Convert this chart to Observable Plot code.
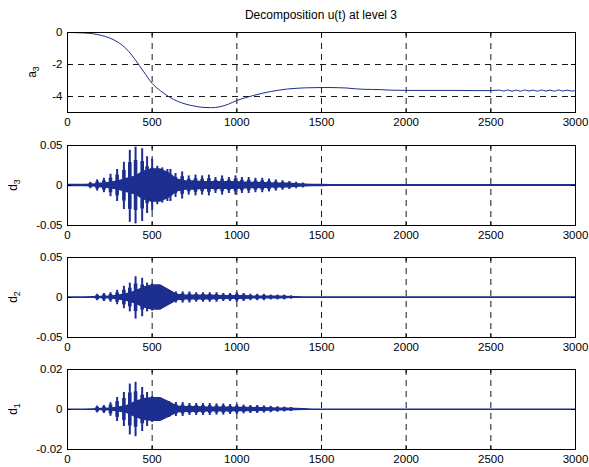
<!DOCTYPE html>
<html><head><meta charset="utf-8">
<script src="https://cdn.jsdelivr.net/npm/d3@7"></script>
<script src="https://cdn.jsdelivr.net/npm/@observablehq/plot@0.6"></script>
<style>
body{margin:0;background:#fff;}
#chart{position:relative;width:589px;height:467px;font-family:"Liberation Sans",Arial,sans-serif;background:#fff;}
#title{position:absolute;left:67px;width:508px;top:8px;text-align:center;font-size:12px;color:#000;}
.panel{position:absolute;left:0;}
</style></head><body>
<div id="chart"><div id="title"></div></div>
<script>
const titleText = "Decomposition u(t) at level 3";
const xTicks = [0, 500, 1000, 1500, 2000, 2500, 3000];

// Approximation a3
const a3T = [0,50,100,150,200,250,300,350,400,450,500,550,600,650,700,750,800,850,900,950,1000,1050,1100,1150,1200,1250,1300,1350,1400,1450,1500,1550,1600,1650,1700,1750,1800,1850,1900,1950,2000,2100,2200,2300,2400,2500,2550,2575,2600,2625,2650,2675,2700,2725,2750,2775,2800,2825,2850,2875,2900,2925,2950,2975,3000];
const a3V = [0,-0.01,-0.03,-0.08,-0.18,-0.35,-0.62,-1.05,-1.7,-2.45,-3.18,-3.65,-4.02,-4.3,-4.48,-4.6,-4.68,-4.7,-4.64,-4.48,-4.25,-4.08,-3.93,-3.8,-3.69,-3.6,-3.53,-3.49,-3.46,-3.45,-3.44,-3.44,-3.45,-3.47,-3.52,-3.55,-3.56,-3.57,-3.6,-3.61,-3.62,-3.62,-3.62,-3.62,-3.63,-3.63,-3.6,-3.66,-3.59,-3.67,-3.6,-3.67,-3.59,-3.66,-3.6,-3.67,-3.59,-3.66,-3.6,-3.67,-3.59,-3.66,-3.6,-3.66,-3.63];

// Detail core envelopes, t step 50 from 0 to 3000
const envT = d3.range(0, 3001, 50);
const d3Core = [0.0015,0.0015,0.0015,0.002,0.003,0.004,0.006,0.009,0.012,0.018,0.021,0.021,0.016,0.008,0.006,0.006,0.005,0.005,0.005,0.005,0.005,0.0045,0.004,0.004,0.0035,0.003,0.003,0.0025,0.002,0.0016,0.0015,0.0014,0.0014,0.0013,0.0013,0.0013,0.0013,0.0013,0.0013,0.0013,0.0013,0.0013,0.0013,0.0013,0.0013,0.0013,0.0013,0.0013,0.0013,0.0013,0.0013,0.0013,0.0013,0.0013,0.0013,0.0013,0.0013,0.0013,0.0013,0.0013,0.0013];
const d2Core = [0.001,0.001,0.001,0.0012,0.0015,0.002,0.003,0.005,0.008,0.013,0.016,0.016,0.01,0.004,0.003,0.003,0.003,0.003,0.0025,0.0025,0.0025,0.0025,0.002,0.002,0.002,0.0018,0.0015,0.0013,0.001,0.0009,0.0008,0.0008,0.0008,0.0008,0.0008,0.0008,0.0008,0.0008,0.0008,0.0008,0.0008,0.0008,0.0008,0.0008,0.0008,0.0008,0.0008,0.0008,0.0008,0.0008,0.0008,0.0008,0.0008,0.0008,0.0008,0.0008,0.0008,0.0008,0.0008,0.0008,0.0008];
const d1Core = [0.0003,0.0003,0.0003,0.0004,0.0006,0.0008,0.0012,0.002,0.004,0.0055,0.006,0.006,0.004,0.0018,0.0015,0.0015,0.0014,0.0013,0.0012,0.0012,0.0011,0.0011,0.001,0.001,0.0009,0.0008,0.0007,0.0006,0.0005,0.0003,0.0003,0.0003,0.0003,0.0003,0.0003,0.0003,0.0003,0.0003,0.0003,0.0003,0.0003,0.0003,0.0003,0.0003,0.0003,0.0003,0.0003,0.0003,0.0003,0.0003,0.0003,0.0003,0.0003,0.0003,0.0003,0.0003,0.0003,0.0003,0.0003,0.0003,0.0003];

// Individual oscillation lobes (time, upper peak, lower peak)
const d3SpikeT = [135,175,215,254,293,333,368,402,441,470,500,530,560,590,608,638,677,716,756,795,835,874,913,953,992,1030,1070,1110,1150,1190,1230,1270,1310,1350,1390];
const d3SpikeHi = [0.004,0.007,0.009,0.014,0.02,0.029,0.044,0.048,0.046,0.036,0.033,0.024,0.022,0.02,0.02,0.015,0.017,0.012,0.013,0.012,0.013,0.01,0.012,0.01,0.012,0.01,0.01,0.009,0.009,0.008,0.007,0.006,0.005,0.004,0.003];
const d3SpikeLo = [-0.004,-0.007,-0.009,-0.014,-0.02,-0.03,-0.046,-0.048,-0.045,-0.035,-0.032,-0.024,-0.022,-0.02,-0.02,-0.015,-0.017,-0.012,-0.013,-0.012,-0.013,-0.01,-0.012,-0.01,-0.012,-0.01,-0.01,-0.009,-0.009,-0.008,-0.007,-0.006,-0.005,-0.004,-0.003];

const d2SpikeT = [175,215,254,293,333,368,402,441,470,500,560,600,640,680,720,760,800,840,880,920,960,1000,1040,1080,1120,1160,1200,1240,1280,1320];
const d2SpikeHi = [0.004,0.005,0.006,0.009,0.014,0.018,0.026,0.024,0.018,0.017,0.009,0.008,0.007,0.007,0.007,0.006,0.006,0.006,0.006,0.005,0.005,0.006,0.005,0.004,0.004,0.004,0.003,0.003,0.003,0.002];
const d2SpikeLo = [-0.004,-0.005,-0.006,-0.009,-0.014,-0.018,-0.027,-0.024,-0.018,-0.017,-0.009,-0.008,-0.007,-0.007,-0.007,-0.006,-0.006,-0.006,-0.006,-0.005,-0.005,-0.006,-0.005,-0.004,-0.004,-0.004,-0.003,-0.003,-0.003,-0.002];

const d1SpikeT = [175,215,254,293,333,368,402,441,470,500,560,600,640,680,720,760,800,840,880,920,960,1000,1040,1080,1120,1160,1200,1240,1280,1320];
const d1SpikeHi = [0.0017,0.002,0.0034,0.006,0.0085,0.0127,0.0136,0.011,0.0085,0.0065,0.0042,0.004,0.0035,0.0035,0.003,0.003,0.003,0.003,0.0028,0.0028,0.0025,0.0025,0.0022,0.002,0.002,0.0018,0.0016,0.0014,0.0012,0.001];
const d1SpikeLo = [-0.0017,-0.002,-0.0034,-0.006,-0.0085,-0.0127,-0.0136,-0.011,-0.0085,-0.0065,-0.0042,-0.004,-0.0035,-0.0035,-0.003,-0.003,-0.003,-0.003,-0.0028,-0.0028,-0.0025,-0.0025,-0.0022,-0.002,-0.002,-0.0018,-0.0016,-0.0014,-0.0012,-0.001];

const blue = "#1c2e8f";
document.getElementById("title").textContent = titleText;

function panel({top, yDomain, yTicks, label, sub, labelX, marks}) {
  const mt = 6, mb = 22, h = 80;
  const [y0, y1] = yDomain;
  const dy = (y1 - y0) * 4 / h;
  const dx = 3000 * 4 / 508;
  const inner = v => v !== yDomain[0] && v !== yDomain[1];
  const svg = Plot.plot({
    width: 589, height: mt + h + mb,
    marginTop: mt, marginBottom: mb, marginLeft: 67, marginRight: 14,
    x: {domain: [0, 3000], ticks: xTicks, tickSize: 0, tickPadding: 5, tickFormat: d => String(d), label: null},
    y: {domain: yDomain, ticks: yTicks, tickSize: 0, tickPadding: 5, tickFormat: d => String(d), label: null},
    style: {fontFamily: '"Liberation Sans", Arial, sans-serif', fontSize: "11.5px", color: "#000", background: "transparent"},
    marks: [
      Plot.ruleX(xTicks.filter(v => v > 0 && v < 3000), {stroke: "#000", strokeDasharray: "6,5", strokeWidth: 0.9}),
      Plot.ruleY(yTicks.filter(inner), {stroke: "#000", strokeDasharray: "6,5", strokeWidth: 0.9}),
      ...marks,
      Plot.ruleX(xTicks, {y1: y0, y2: y0 + dy, stroke: "#000"}),
      Plot.ruleX(xTicks, {y1: y1, y2: y1 - dy, stroke: "#000"}),
      Plot.ruleY(yTicks, {x1: 0, x2: dx, stroke: "#000"}),
      Plot.ruleY(yTicks, {x1: 3000, x2: 3000 - dx, stroke: "#000"}),
      Plot.frame({stroke: "#000", strokeWidth: 1})
    ]
  });
  svg.classList.add("panel");
  svg.style.top = (top - mt) + "px";
  const t = d3.select(svg).append("text")
    .attr("transform", `translate(${labelX},${mt + h / 2}) rotate(-90)`)
    .attr("text-anchor", "middle").attr("font-size", 12).attr("fill", "#000")
    .attr("font-family", '"Liberation Sans", Arial, sans-serif');
  t.append("tspan").text(label);
  t.append("tspan").attr("font-size", 9).attr("dy", 3).text(sub);
  document.getElementById("chart").appendChild(svg);
}

function detailMarks(core, sT, sHi, sLo) {
  const coreData = envT.map((t, i) => ({t, v: core[i]}));
  const spikes = sT.map((t, i) => ({t, hi: sHi[i], lo: sLo[i]}));
  return [
    Plot.areaY(coreData, {x: "t", y1: d => -d.v, y2: "v", fill: blue}),
    // wide base of each lobe, then a narrower tip, giving a tapered lobe
    Plot.ruleX(spikes, {x: "t", y1: d => d.lo * 0.65, y2: d => d.hi * 0.65, stroke: blue, strokeWidth: 3.6}),
    Plot.ruleX(spikes, {x: "t", y1: "lo", y2: "hi", stroke: blue, strokeWidth: 2}),
    Plot.ruleY([0], {stroke: blue, strokeWidth: 1})
  ];
}

panel({top: 32, yDomain: [-5, 0], yTicks: [-4, -2, 0], label: "a", sub: "3", labelX: 36,
  marks: [Plot.line(a3T.map((t, i) => ({t, v: a3V[i]})), {x: "t", y: "v", stroke: blue, strokeWidth: 1, curve: "monotone-x"})]});
panel({top: 145, yDomain: [-0.05, 0.05], yTicks: [-0.05, 0, 0.05], label: "d", sub: "3", labelX: 17,
  marks: detailMarks(d3Core, d3SpikeT, d3SpikeHi, d3SpikeLo)});
panel({top: 257, yDomain: [-0.05, 0.05], yTicks: [-0.05, 0, 0.05], label: "d", sub: "2", labelX: 17,
  marks: detailMarks(d2Core, d2SpikeT, d2SpikeHi, d2SpikeLo)});
panel({top: 369, yDomain: [-0.02, 0.02], yTicks: [-0.02, 0, 0.02], label: "d", sub: "1", labelX: 17,
  marks: detailMarks(d1Core, d1SpikeT, d1SpikeHi, d1SpikeLo)});
</script>
</body></html>
